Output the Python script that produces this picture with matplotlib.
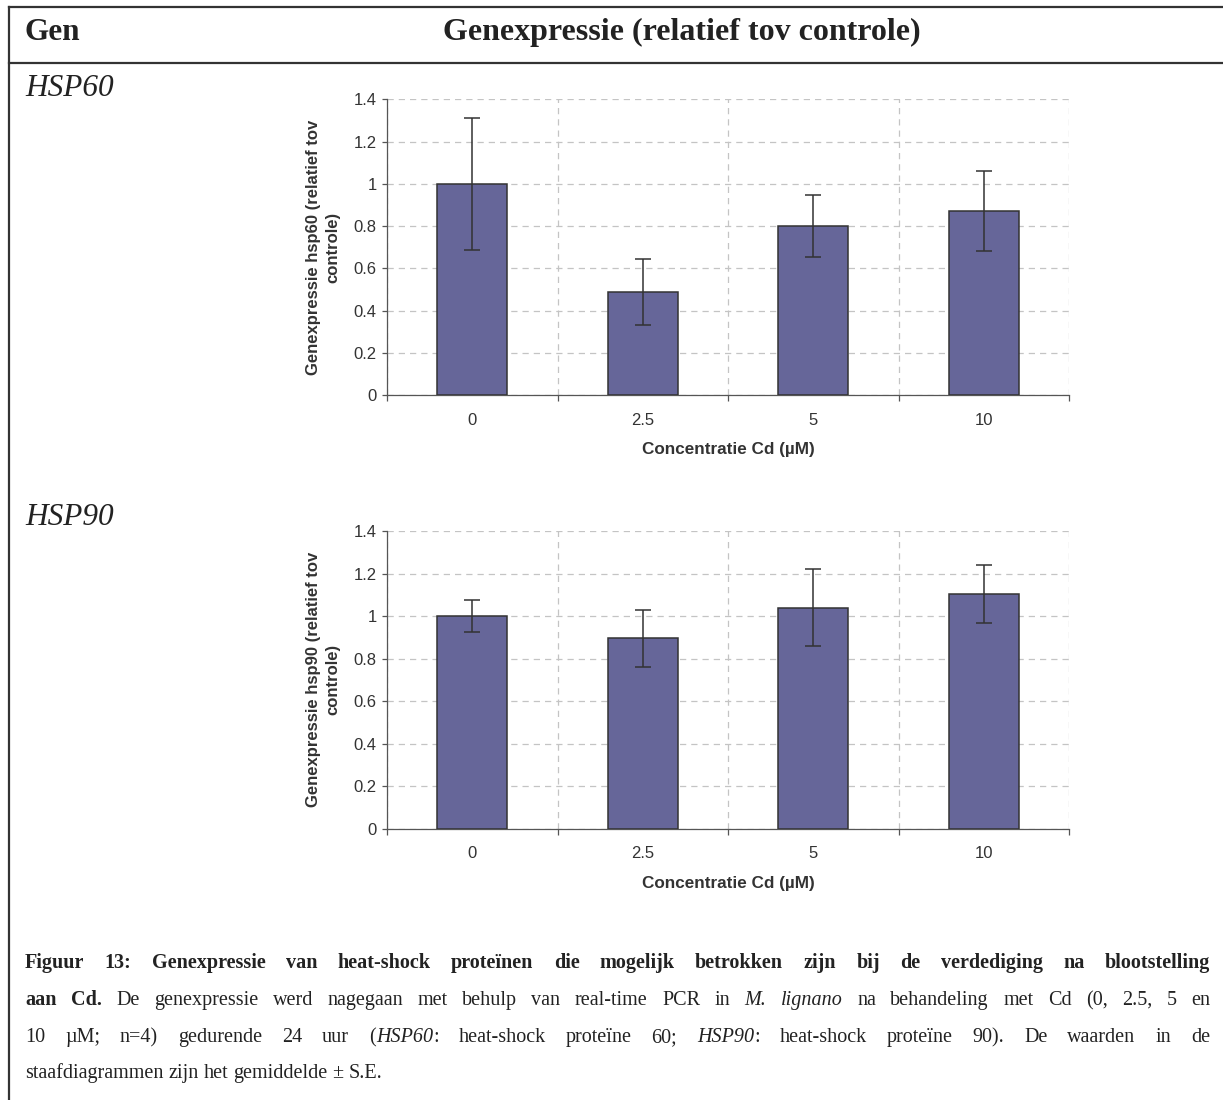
import numpy as np
import matplotlib
matplotlib.use("Agg")
import matplotlib.pyplot as plt
from matplotlib.lines import Line2D

# data
conc = ["0", "2.5", "5", "10"]
hsp60_mean = [1.0, 0.488, 0.80, 0.871]
hsp60_se = [0.313, 0.155, 0.146, 0.19]
hsp90_mean = [1.0, 0.895, 1.04, 1.103]
hsp90_se = [0.077, 0.133, 0.18, 0.137]
yticks = [0, 0.2, 0.4, 0.6, 0.8, 1.0, 1.2, 1.4]
ytick_labels = ["0", "0.2", "0.4", "0.6", "0.8", "1", "1.2", "1.4"]

W, H = 1223, 1100
SERIF = "Liberation Serif"
SANS = "Liberation Sans"

fig = plt.figure(figsize=(W / 100, H / 100), dpi=100)


def fx(x):
    return x / W


def fy(y):
    return 1 - y / H


def bars(rect, mean, se, ylabel):
    l, t, r, b = rect
    ax = fig.add_axes([fx(l), fy(b), fx(r - l), (b - t) / H])
    x = np.arange(len(conc))
    ax.bar(x, mean, width=0.41, color="#666699", edgecolor="#333333",
           linewidth=1.1, zorder=3)
    ax.errorbar(x, mean, yerr=se, fmt="none", ecolor="#333333",
                elinewidth=1.1, capsize=5.5, capthick=1.1, zorder=4)
    ax.set_xlim(-0.5, len(conc) - 0.5)
    ax.set_ylim(0, 1.4)
    ax.set_yticks(yticks)
    ax.set_yticklabels(ytick_labels)
    ax.set_xticks(x)
    ax.set_xticklabels(conc)
    ax.set_xticks(np.arange(-0.5, len(conc), 1.0), minor=True)
    ax.tick_params(axis="x", which="major", length=0, pad=12.5, labelsize=12,
                   labelcolor="#333333")
    ax.tick_params(axis="x", which="minor", length=4, width=0.9,
                   color="#555555", direction="out")
    ax.tick_params(axis="y", length=3.5, width=0.9, color="#555555", pad=4,
                   labelsize=12, labelcolor="#333333")
    for lab in ax.get_xticklabels() + ax.get_yticklabels():
        lab.set_family(SANS)
    ax.grid(axis="y", which="major", color="#c4c4c4", lw=0.9, ls=(0, (5, 4)))
    ax.grid(axis="x", which="minor", color="#c4c4c4", lw=0.9, ls=(0, (5, 4)))
    ax.grid(axis="x", which="major", visible=False)
    ax.set_axisbelow(True)
    for s in ["top", "right"]:
        ax.spines[s].set_visible(False)
    for s in ["left", "bottom"]:
        ax.spines[s].set_color("#555555")
        ax.spines[s].set_linewidth(0.9)
    ax.set_ylabel(ylabel, family=SANS, fontweight="bold", fontsize=12,
                  color="#333333", linespacing=1.3)
    ax.yaxis.set_label_coords(-0.069, 0.5)
    ax.set_xlabel("Concentratie Cd (µM)", family=SANS, fontweight="bold",
                  fontsize=12.3, color="#333333")
    ax.xaxis.set_label_coords(0.5, -47 / (b - t))
    return ax


bars((387, 99.3, 1069, 395.3), hsp60_mean, hsp60_se,
     "Genexpressie hsp60 (relatief tov\ncontrole)")
bars((387, 531, 1069, 828.7), hsp90_mean, hsp90_se,
     "Genexpressie hsp90 (relatief tov\ncontrole)")

# table frame
lc = "#333333"
fig.add_artist(Line2D([fx(9), 1], [fy(7), fy(7)], color=lc, lw=1.6))
fig.add_artist(Line2D([fx(9), 1], [fy(63), fy(63)], color=lc, lw=1.6))
fig.add_artist(Line2D([fx(9), fx(9)], [fy(7), 0], color=lc, lw=1.6))

fig.text(fx(25), fy(40), "Gen", family=SERIF, fontweight="bold", fontsize=22.5,
         color="#222222", va="baseline")
fig.text(fx(682), fy(40), "Genexpressie (relatief tov controle)", family=SERIF,
         fontweight="bold", fontsize=23, color="#222222", va="baseline",
         ha="center")
fig.text(fx(25), fy(96), "HSP60", family=SERIF, fontstyle="italic",
         fontsize=22.5, color="#222222", va="baseline")
fig.text(fx(25), fy(525), "HSP90", family=SERIF, fontstyle="italic",
         fontsize=22.5, color="#222222", va="baseline")

# caption, justified like the original
cap_size = 14.5
caption = [
    [("Figuur 13: Genexpressie van heat-shock proteïnen die mogelijk betrokken "
      "zijn bij de verdediging na blootstelling", "b")],
    [("aan Cd.", "b"),
     (" De genexpressie werd nagegaan met behulp van real-time PCR in ", "r"),
     ("M. lignano", "i"), (" na behandeling met Cd (0, 2.5, 5 en", "r")],
    [("10 µM; n=4) gedurende 24 uur (", "r"), ("HSP60", "i"),
     (": heat-shock proteïne 60; ", "r"), ("HSP90", "i"),
     (": heat-shock proteïne 90). De waarden in de", "r")],
    [("staafdiagrammen zijn het gemiddelde ± S.E.", "r")],
]
cap_base = [968, 1005, 1042, 1078]


def words_of(segs):
    words, cur = [], []
    for text, st in segs:
        parts = text.split(" ")
        for k, p in enumerate(parts):
            if k > 0 and cur:
                words.append(cur)
                cur = []
            if p:
                cur.append((p, st))
    if cur:
        words.append(cur)
    return words


def style_kw(st):
    return dict(family=SERIF, fontsize=cap_size, color="#222222",
                fontweight="bold" if st == "b" else "normal",
                fontstyle="italic" if st == "i" else "normal")


renderer = fig.canvas.get_renderer()
probe = fig.text(0, 0, "a a", **style_kw("r"))
w_sp = probe.get_window_extent(renderer).width
probe.set_text("aa")
w_sp -= probe.get_window_extent(renderer).width
probe.remove()

x0, x1 = 25, 1210
for i, (segs, yb) in enumerate(zip(caption, cap_base)):
    words = words_of(segs)
    placed = []
    for word in words:
        arts = []
        for txt, st in word:
            t = fig.text(0, fy(yb), txt, va="baseline", **style_kw(st))
            arts.append((t, t.get_window_extent(renderer).width))
        placed.append(arts)
    total = sum(w for arts in placed for _, w in arts)
    last = i == len(caption) - 1
    gap = w_sp if last else (x1 - x0 - total) / (len(placed) - 1)
    x = x0
    for arts in placed:
        for t, w in arts:
            t.set_x(fx(x))
            x += w
        x += gap

fig.savefig("out.png", dpi=100)
